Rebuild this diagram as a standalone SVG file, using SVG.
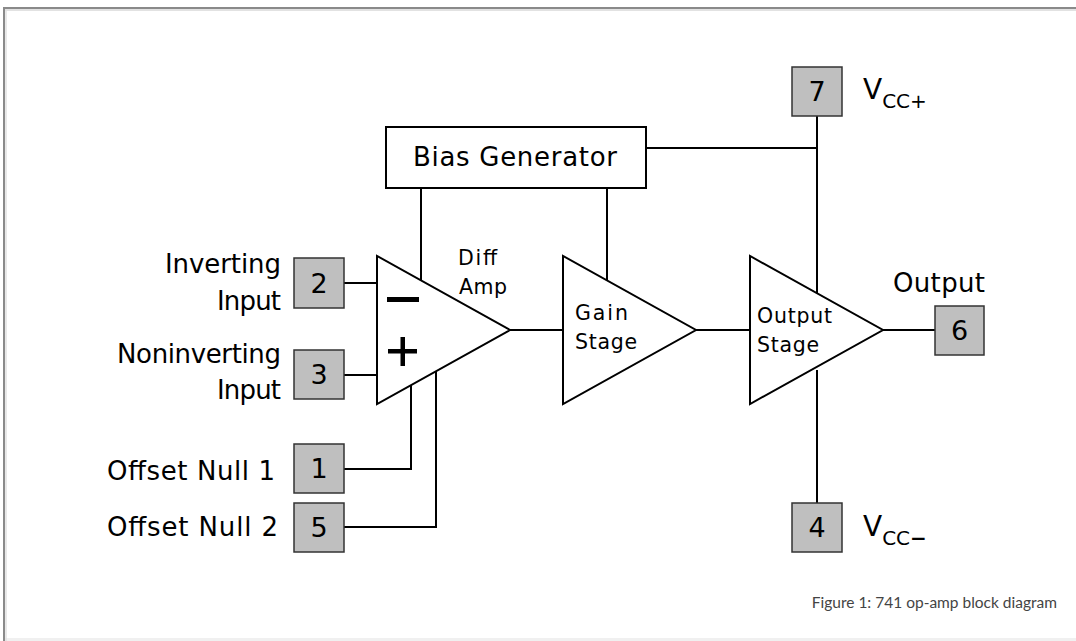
<svg xmlns="http://www.w3.org/2000/svg" width="1076" height="641" viewBox="0 0 1076 641">
<style>
.w{fill:none;stroke:#000;stroke-width:2}
.tri{fill:#fff;stroke:#000;stroke-width:2;stroke-linejoin:miter}
.pin{fill:#bfbfbf;stroke:#333;stroke-width:1.5}
.t{font-family:"DejaVu Sans","Liberation Sans",sans-serif;fill:#000}
.lbl{font-size:26px}
.num{font-size:27px;text-anchor:middle}
.sm{font-size:20.5px}
</style>
<rect x="0" y="0" width="1076" height="641" fill="#fff"/>
<rect x="4" y="638" width="1072" height="3" fill="#f0f0f0"/>
<line x1="3" y1="8" x2="1076" y2="8" stroke="#8a8a8a" stroke-width="2"/>
<line x1="4" y1="7" x2="4" y2="641" stroke="#8a8a8a" stroke-width="2"/>
<line x1="5" y1="10" x2="1076" y2="10" stroke="#d8d8d8" stroke-width="1.5"/>
<line x1="6" y1="10" x2="6" y2="641" stroke="#e0e0e0" stroke-width="1.5"/>

<g id="connectors">
<path class="w" d="M344,283 H377"/>
<path class="w" d="M344,375 H377"/>
<path class="w" d="M344,469 H411 V385"/>
<path class="w" d="M344,527 H436 V371"/>
<path class="w" d="M421,187 V281"/>
<path class="w" d="M607,187 V281"/>
<path class="w" d="M646,148 H817"/>
<path class="w" d="M817,116 V293"/>
<path class="w" d="M817,370 V503"/>
<path class="w" d="M510,330 H563"/>
<path class="w" d="M696,330 H750"/>
<path class="w" d="M883,330 H935"/>
</g>

<g id="bias">
<rect x="386" y="127" width="260" height="61" fill="#fff" stroke="#000" stroke-width="2"/>
<text class="t lbl" x="413" y="166" textLength="204">Bias Generator</text>
</g>

<g id="diffamp">
<polygon class="tri" points="377,256 377,404 510,330"/>
<rect x="387" y="297" width="32" height="5" fill="#000"/>
<rect x="388" y="349" width="29" height="4.5" fill="#000"/>
<rect x="400.5" y="337" width="4.5" height="29" fill="#000"/>
<text class="t sm" x="458" y="265" textLength="39">Diff</text>
<text class="t sm" x="459" y="294" textLength="48">Amp</text>
</g>

<g id="gain">
<polygon class="tri" points="563,256 563,404 696,330"/>
<text class="t sm" x="575" y="320" textLength="53">Gain</text>
<text class="t sm" x="575" y="349" textLength="62">Stage</text>
</g>

<g id="outstage">
<polygon class="tri" points="750,256 750,404 883,330"/>
<text class="t sm" x="757" y="323" textLength="75">Output</text>
<text class="t sm" x="757" y="352" textLength="62">Stage</text>
</g>

<g id="pin2">
<rect class="pin" x="294" y="258" width="50" height="50"/>
<text class="t num" x="319" y="293">2</text>
<text class="t lbl" x="165" y="273" textLength="116">Inverting</text>
<text class="t lbl" x="217" y="310" textLength="64">Input</text>
</g>
<g id="pin3">
<rect class="pin" x="294" y="350" width="50" height="49"/>
<text class="t num" x="319" y="384">3</text>
<text class="t lbl" x="117" y="363" textLength="164">Noninverting</text>
<text class="t lbl" x="217" y="399" textLength="64">Input</text>
</g>
<g id="pin1">
<rect class="pin" x="294" y="444" width="50" height="49"/>
<text class="t num" x="319" y="478">1</text>
<text class="t lbl" x="107" y="480" textLength="168">Offset Null 1</text>
</g>
<g id="pin5">
<rect class="pin" x="294" y="503" width="50" height="49"/>
<text class="t num" x="319" y="537">5</text>
<text class="t lbl" x="107" y="536" textLength="171">Offset Null 2</text>
</g>
<g id="pin7">
<rect class="pin" x="792" y="67" width="50" height="49"/>
<text class="t num" x="817" y="101">7</text>
<text class="t" x="863" y="99" font-size="28">V<tspan font-size="20" dy="9">CC+</tspan></text>
</g>
<g id="pin4">
<rect class="pin" x="792" y="503" width="50" height="49"/>
<text class="t num" x="817" y="537">4</text>
<text class="t" x="863" y="536" font-size="28">V<tspan font-size="20" dy="9">CC<tspan font-weight="bold">−</tspan></tspan></text>
</g>
<g id="pin6">
<rect class="pin" x="935" y="306" width="49" height="49"/>
<text class="t num" x="959.5" y="340">6</text>
<text class="t lbl" x="893" y="292" textLength="92">Output</text>
</g>

<text x="1057" y="608" font-family="Lato, Liberation Sans, sans-serif" font-size="15.5" fill="#444" text-anchor="end">Figure 1: 741 op-amp block diagram</text>
</svg>
